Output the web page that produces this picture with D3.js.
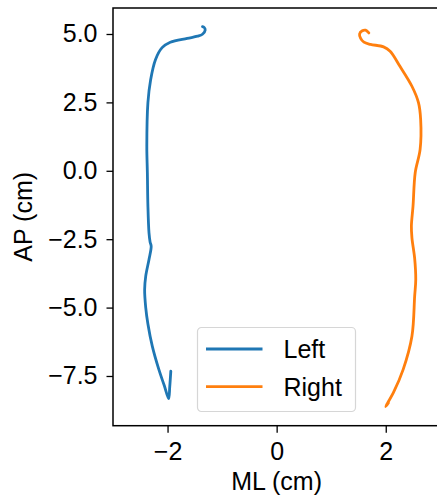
<!DOCTYPE html>
<html lang="en">
<head>
    <meta charset="UTF-8">
    <title>ML vs AP</title>
    <style>
        body { margin: 0; background: #fff; }
        text { font-family: "Liberation Sans", Arial, sans-serif; }
    </style>
</head>
<body>
<script src="https://cdn.jsdelivr.net/npm/d3@7/dist/d3.min.js"></script>
<script type="text/javascript">
    // trajectories (cm)
    var leftML = [-1.36, -1.33, -1.31, -1.36, -1.45, -1.64, -1.95, -2.10, -2.22, -2.31, -2.36, -2.38, -2.37, -2.36, -2.34, -2.32, -2.30, -2.34, -2.40, -2.42, -2.40, -2.36, -2.28, -2.16, -2.06, -1.98, -1.96, -1.94];
    var leftAP = [5.27, 5.24, 5.14, 4.99, 4.92, 4.84, 4.70, 4.50, 4.07, 3.33, 2.49, 0.90, -0.07, -1.29, -2.27, -2.60, -2.76, -3.24, -3.85, -4.34, -5.00, -5.60, -6.41, -7.26, -7.85, -8.33, -7.90, -7.32];
    var rightML = [1.69, 1.63, 1.57, 1.52, 1.54, 1.60, 1.72, 1.96, 2.08, 2.26, 2.48, 2.60, 2.64, 2.63, 2.54, 2.50, 2.47, 2.48, 2.53, 2.55, 2.53, 2.48, 2.32, 2.14, 2.03, 2.00, 2.05];
    var rightAP = [5.04, 5.14, 5.12, 5.00, 4.84, 4.70, 4.62, 4.53, 4.37, 3.82, 3.09, 2.49, 1.87, 0.78, -0.07, -1.29, -2.02, -2.45, -3.20, -3.97, -4.58, -6.05, -7.26, -8.11, -8.50, -8.62, -8.48];
    var xTicks = [-2, 0, 2];
    var yTicks = [5.0, 2.5, 0.0, -2.5, -5.0, -7.5];
    var seriesNames = ["Left", "Right"];
    var seriesColors = ["#1f77b4", "#ff7f0e"];

    var w = 437;
    var h = 498;
    var x0 = 113, x1 = 440.3, yTop = 8, yBot = 425.7;
    var fs = "25px";

    var svg = d3.select("body")
        .append("svg")
        .attr("width", w)
        .attr("height", h);

    var xScale = d3.scaleLinear().domain([-3, 3]).range([x0, x1]);
    var yScale = d3.scaleLinear().domain([-9.317, 5.95]).range([yBot, yTop]);

    var series = [
        d3.zip(leftML, leftAP),
        d3.zip(rightML, rightAP)
    ];

    var line = d3.line()
        .x(function (d) { return xScale(d[0]); })
        .y(function (d) { return yScale(d[1]); })
        .curve(d3.curveCatmullRom.alpha(0.5));

    svg.selectAll("path.trace")
        .data(series)
        .enter()
        .append("path")
        .attr("class", "trace")
        .attr("d", line)
        .attr("fill", "none")
        .attr("stroke", function (d, i) { return seriesColors[i]; })
        .attr("stroke-width", 2.8)
        .attr("stroke-linejoin", "round")
        .attr("stroke-linecap", "round");

    // axes
    var xAxis = d3.axisBottom(xScale)
        .tickValues(xTicks)
        .tickSize(7)
        .tickPadding(5)
        .tickFormat(function (d) { return d3.format("d")(d).replace("-", "\u2212"); });
    var yAxis = d3.axisLeft(yScale)
        .tickValues(yTicks)
        .tickSize(6.5)
        .tickPadding(9)
        .tickFormat(function (d) { return d3.format(".1f")(d).replace("-", "\u2212"); });

    var gx = svg.append("g")
        .attr("transform", "translate(0," + yBot + ")")
        .call(xAxis);
    var gy = svg.append("g")
        .attr("transform", "translate(" + x0 + ",0)")
        .call(yAxis);

    [gx, gy].forEach(function (g) {
        g.select(".domain").remove();
        g.selectAll(".tick line").attr("stroke", "#000").attr("stroke-width", 1.3);
        g.selectAll(".tick text")
            .attr("fill", "#000")
            .style("font-size", fs)
            .style("font-family", "'Liberation Sans', Arial, sans-serif");
    });
    gx.selectAll(".tick text").attr("dy", "0.88em");

    // spines
    svg.append("rect")
        .attr("x", x0)
        .attr("y", yTop)
        .attr("width", x1 - x0)
        .attr("height", yBot - yTop)
        .attr("fill", "none")
        .attr("stroke", "#000")
        .attr("stroke-width", 1.5);

    // axis labels
    svg.append("text")
        .attr("x", (x0 + x1) / 2)
        .attr("y", 490)
        .attr("text-anchor", "middle")
        .attr("font-size", fs)
        .text("ML (cm)");
    svg.append("text")
        .attr("transform", "translate(32," + ((yTop + yBot) / 2) + ") rotate(-90)")
        .attr("text-anchor", "middle")
        .attr("font-size", fs)
        .text("AP (cm)");

    // legend
    var legend = svg.append("g").attr("transform", "translate(197.5,327.5)");
    legend.append("rect")
        .attr("width", 158)
        .attr("height", 84)
        .attr("rx", 4)
        .attr("fill", "#fff")
        .attr("fill-opacity", 0.8)
        .attr("stroke", "#d6d6d6")
        .attr("stroke-width", 1.2);
    var items = legend.selectAll("g.item")
        .data(seriesNames)
        .enter()
        .append("g")
        .attr("class", "item")
        .attr("transform", function (d, i) { return "translate(0," + (21.5 + i * 37.7) + ")"; });
    items.append("line")
        .attr("x1", 8.5)
        .attr("x2", 65)
        .attr("stroke", function (d, i) { return seriesColors[i]; })
        .attr("stroke-width", 2.8);
    items.append("text")
        .attr("x", 86)
        .attr("dy", "0.36em")
        .attr("font-size", fs)
        .text(function (d) { return d; });
</script>
</body>
</html>
